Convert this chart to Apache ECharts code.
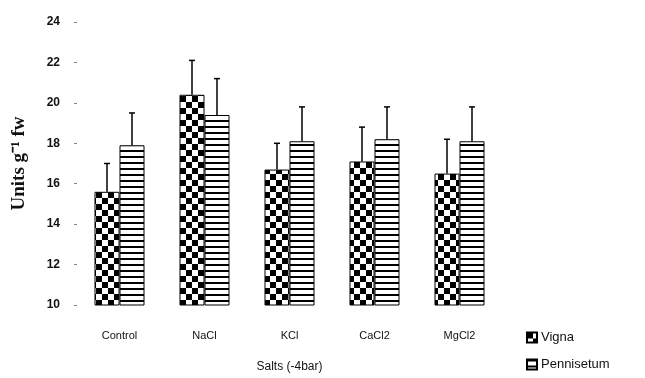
<!DOCTYPE html>
<html>
<head>
<meta charset="utf-8">
<script src="https://cdn.jsdelivr.net/npm/echarts@6/dist/echarts.min.js"></script>
<style>
  html, body { margin: 0; padding: 0; background: #fff; }
  #chart { width: 645px; height: 378px; }
</style>
</head>
<body>
<div id="chart"></div>
<script>
const salts = ['Control', 'NaCl', 'KCl', 'CaCl2', 'MgCl2'];
const vignaMean = [15.6, 20.4, 16.7, 17.1, 16.5];
const vignaSd = [1.4, 1.7, 1.3, 1.7, 1.7];
const pennMean = [17.9, 19.4, 18.1, 18.2, 18.1];
const pennSd = [1.6, 1.8, 1.7, 1.6, 1.7];
const yTicks = [10, 12, 14, 16, 18, 20, 22, 24];

const BAR_W = 25;

// fill patterns like the scanned figure
function checkerPattern() {
  const c = document.createElement('canvas');
  c.width = 12; c.height = 12;
  const ctx = c.getContext('2d');
  ctx.fillStyle = '#fff';
  ctx.fillRect(0, 0, 12, 12);
  ctx.fillStyle = '#000';
  ctx.fillRect(0, 0, 6, 6);
  ctx.fillRect(6, 6, 6, 6);
  return { image: c, repeat: 'repeat' };
}

function stripePattern() {
  const c = document.createElement('canvas');
  c.width = 6; c.height = 6;
  const ctx = c.getContext('2d');
  ctx.fillStyle = '#fff';
  ctx.fillRect(0, 0, 6, 6);
  ctx.fillStyle = '#000';
  ctx.fillRect(0, 0, 6, 2);
  return { image: c, repeat: 'repeat' };
}

function errorSeries(means, sds, offset) {
  return {
    type: 'custom',
    z: 5,
    silent: true,
    data: means.map((m, i) => [i, m, m + sds[i]]),
    renderItem: function (params, api) {
      const base = api.coord([api.value(0), api.value(1)]);
      const top = api.coord([api.value(0), api.value(2)]);
      const x = base[0] + offset;
      const style = { stroke: '#000', lineWidth: 1.5 };
      return {
        type: 'group',
        children: [
          { type: 'line', shape: { x1: x, y1: base[1], x2: x, y2: top[1] }, style: style },
          { type: 'line', shape: { x1: x - 3, y1: top[1], x2: x + 3, y2: top[1] }, style: style }
        ]
      };
    }
  };
}

const chart = echarts.init(document.getElementById('chart'));

const option = {
  backgroundColor: '#fff',
  animation: false,
  grid: { left: 77, right: 143, top: 22, bottom: 67 },
  legend: {
    orient: 'vertical',
    left: 521,
    top: 326,
    icon: 'rect',
    itemWidth: 10,
    itemHeight: 10,
    itemGap: 14,
    data: ['Vigna', 'Pennisetum'],
    textStyle: { fontFamily: 'Liberation Sans, Arial', fontSize: 13, color: '#111', padding: [0, 0, 0, -1] }
  },
  xAxis: {
    type: 'category',
    data: salts,
    name: 'Salts (-4bar)',
    nameLocation: 'middle',
    nameGap: 56,
    nameTextStyle: { fontFamily: 'Liberation Sans, Arial', fontSize: 12, color: '#111' },
    axisLine: { show: false },
    axisTick: { show: false },
    axisLabel: { margin: 25, fontFamily: 'Liberation Sans, Arial', fontSize: 11, color: '#111' }
  },
  yAxis: {
    type: 'value',
    min: yTicks[0],
    max: yTicks[yTicks.length - 1],
    interval: 2,
    name: 'Units g\u207B\u00B9 fw',
    nameLocation: 'middle',
    nameRotate: 90,
    nameGap: 48,
    nameTextStyle: { fontFamily: 'Liberation Serif, Times New Roman', fontWeight: 'bold', fontSize: 19, color: '#111' },
    axisLine: { show: false },
    axisTick: { show: true, length: 3, lineStyle: { color: '#888' } },
    splitLine: { show: false },
    axisLabel: { margin: 17, fontFamily: 'Liberation Sans, Arial', fontWeight: 'bold', fontSize: 12, color: '#111' }
  },
  series: [
    {
      name: 'Vigna',
      type: 'bar',
      barWidth: BAR_W,
      barGap: '0%',
      data: vignaMean,
      itemStyle: { color: checkerPattern(), borderColor: '#000', borderWidth: 1 }
    },
    {
      name: 'Pennisetum',
      type: 'bar',
      barWidth: BAR_W,
      barGap: '0%',
      data: pennMean,
      itemStyle: { color: stripePattern(), borderColor: '#000', borderWidth: 1 }
    },
    errorSeries(vignaMean, vignaSd, -BAR_W / 2),
    errorSeries(pennMean, pennSd, BAR_W / 2)
  ]
};

chart.setOption(option);
</script>
</body>
</html>
